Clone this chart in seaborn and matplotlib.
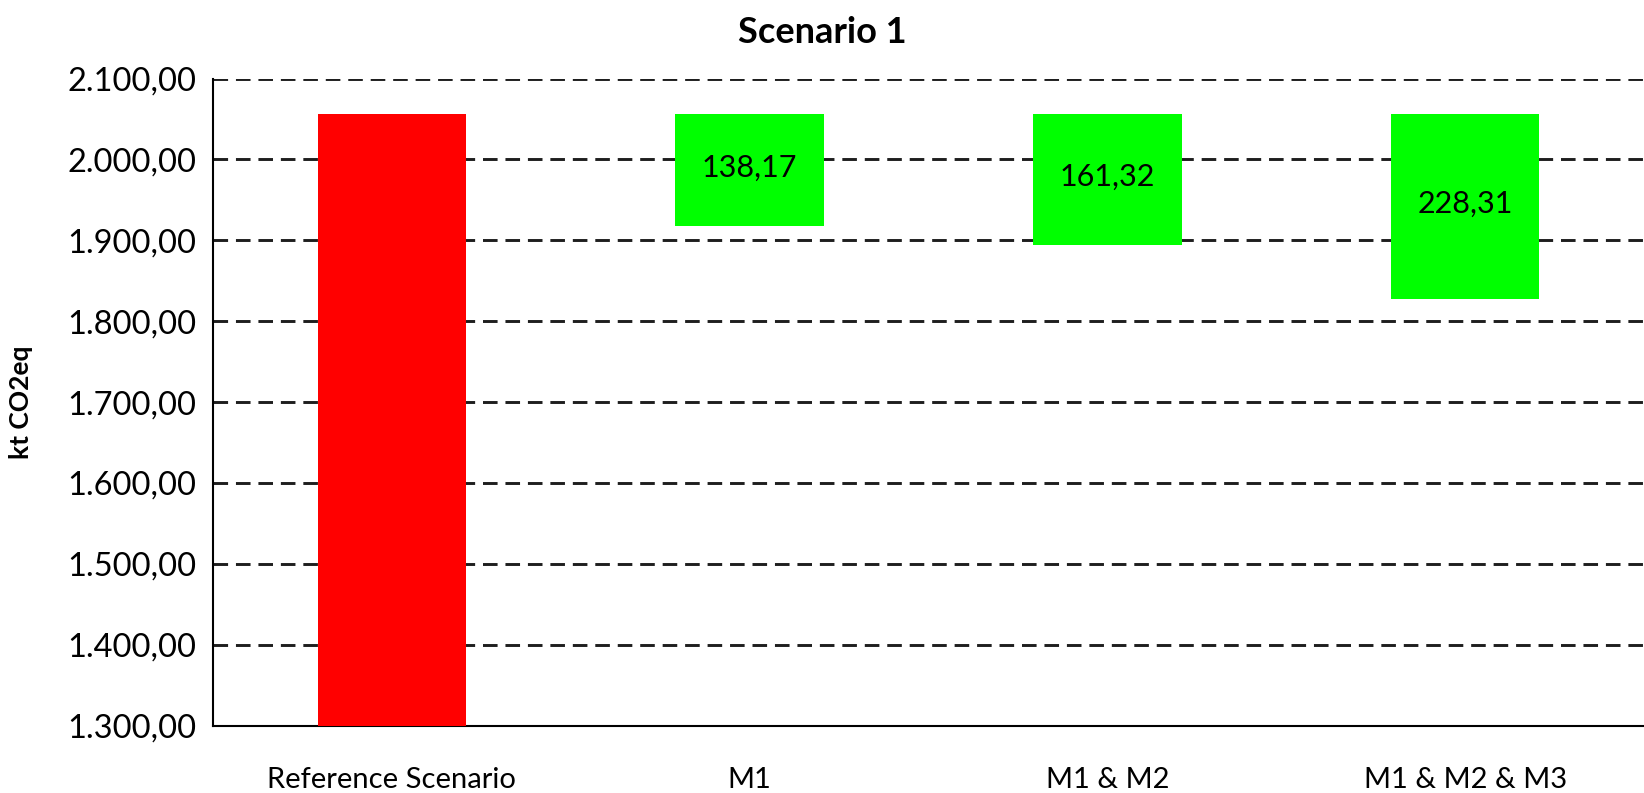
import matplotlib
matplotlib.use("Agg")
import matplotlib.pyplot as plt
from matplotlib.ticker import FuncFormatter, FixedLocator
import seaborn as sns
import pandas as pd

# Emissions per scenario (kt CO2eq)
categories = ["Reference Scenario", "M1", "M1 & M2", "M1 & M2 & M3"]
reference_emissions = 2056.0
reductions = [138.17, 161.32, 228.31]
y_ticks = [1300, 1400, 1500, 1600, 1700, 1800, 1900, 2000, 2100]

tops = [reference_emissions] * len(categories)
bottoms = [0.0] + [reference_emissions - r for r in reductions]
df = pd.DataFrame({"category": categories, "top": tops, "bottom": bottoms})


def de_number(v, pos=None):
    s = f"{v:,.2f}"
    return s.replace(",", "X").replace(".", ",").replace("X", ".")


sns.set_theme(style="white")
plt.rcParams["font.family"] = ["Lato", "DejaVu Sans"]

fig = plt.figure(figsize=(16.44, 7.93), dpi=100)
ax = fig.add_axes([0.1296, 0.085, 0.8704, 0.816])

sns.barplot(data=df, x="category", y="top", hue="category",
            palette=["#ff0000", "#00ff00", "#00ff00", "#00ff00"],
            width=0.415, legend=False, saturation=1, linewidth=0, ax=ax, zorder=3)

# Reductions float between the reduced level and the reference level
for patch, b, t in zip(ax.patches, df["bottom"], df["top"]):
    patch.set_y(b)
    patch.set_height(t - b)

# Value labels inside the reduction bars
for i, r in enumerate(reductions, start=1):
    mid = reference_emissions - r / 2
    ax.text(i, mid + 3, de_number(r), ha="center", va="center",
            fontsize=22, color="black", zorder=4)

ax.set_ylim(1300, 2100)
ax.set_xlim(-0.5, 3.5)
ax.yaxis.set_major_locator(FixedLocator(y_ticks))
ax.yaxis.set_major_formatter(FuncFormatter(de_number))
ax.grid(axis="y", color="#1e1e1e", linestyle=(0, (5, 2.7)), linewidth=2.1, zorder=0)
ax.set_axisbelow(True)

# Category boundaries carry the tick marks; labels sit at the centres
ax.set_xticks(range(len(categories)))
ax.set_xticklabels(categories)
ax.set_xticks([-0.5, 0.5, 1.5, 2.5, 3.5], minor=True)
ax.tick_params(axis="x", which="major", length=0, pad=30, labelsize=21, colors="black")
ax.tick_params(axis="x", which="minor", length=7, width=1.5, direction="out", color="black")
ax.tick_params(axis="y", which="major", length=14, width=1.5, direction="inout",
               labelsize=23.5, colors="black", pad=5)

for side in ["top", "right"]:
    ax.spines[side].set_visible(False)
for side in ["left", "bottom"]:
    ax.spines[side].set_color("black")
    ax.spines[side].set_linewidth(1.5)

ax.set_xlabel("")
ax.set_ylabel("kt CO2eq", fontsize=19, fontweight="bold", color="black")
ax.yaxis.set_label_coords(-0.126, 0.5)
fig.suptitle("Scenario 1", x=0.5, y=0.959, va="center",
             fontsize=26, fontweight="bold", color="black")

fig.savefig("out.png", dpi=100)
